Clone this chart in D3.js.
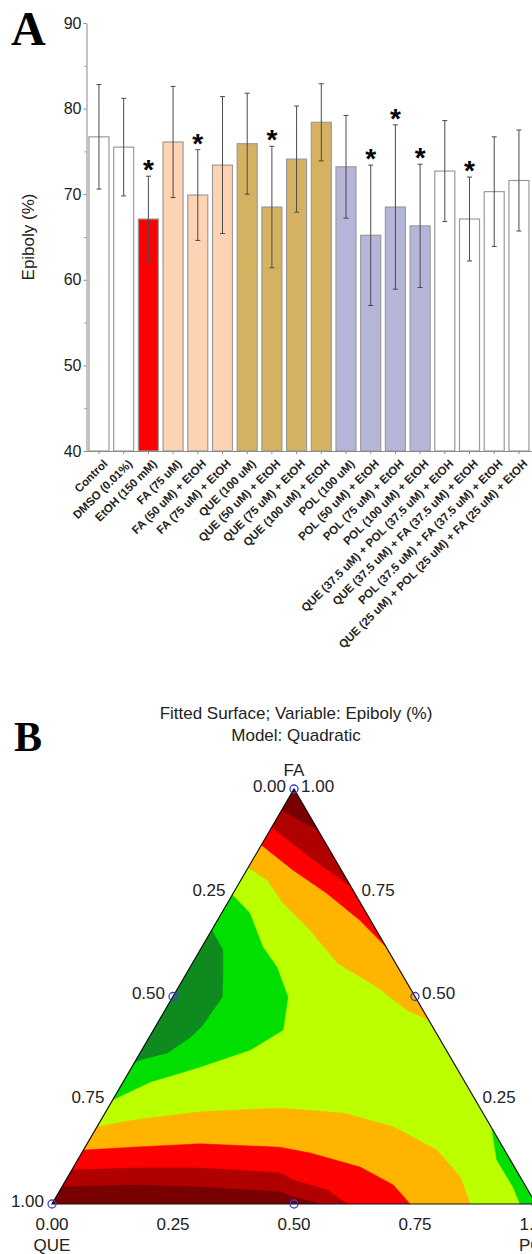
<!DOCTYPE html>
<html>
<head>
<meta charset="utf-8">
<script src="https://cdnjs.cloudflare.com/ajax/libs/d3/7.8.5/d3.min.js"></script>
<style>
    body { margin: 0; background: #fff; }
    svg { display: block; font-family: Arial, 'Liberation Sans', sans-serif; }
</style>
</head>
<body>
<svg id="chart" width="532" height="1254"></svg>
<script>
// ---- panel A data ----
const categories = [
    'Control',
    'DMSO (0.01%)',
    'EtOH (150 mM)',
    'FA (75 uM)',
    'FA (50 uM) + EtOH',
    'FA (75 uM) + EtOH',
    'QUE (100 uM)',
    'QUE (50 uM) + EtOH',
    'QUE (75 uM) + EtOH',
    'QUE (100 uM) + EtOH',
    'POL (100 uM)',
    'POL (50 uM) + EtOH',
    'POL (75 uM) + EtOH',
    'POL (100 uM) + EtOH',
    'QUE (37.5 uM) + POL (37.5 uM) + EtOH',
    'QUE (37.5 uM) + FA (37.5 uM) + EtOH',
    'POL (37.5 uM) + FA (37.5 uM) + EtOH',
    'QUE (25 uM) + POL (25 uM) + FA (25 uM) + EtOH',
]
const groups = ['none', 'none', 'etoh', 'fa', 'fa', 'fa', 'que', 'que', 'que', 'que',
    'pol', 'pol', 'pol', 'pol', 'none', 'none', 'none', 'none']
const means = [76.7, 75.5, 67.1, 76.1, 69.9, 73.4, 75.9, 68.5, 74.1, 78.4,
    73.2, 65.2, 68.5, 66.3, 72.7, 67.1, 70.3, 71.6]
const sds = [6.1, 5.7, 5.0, 6.5, 5.3, 8.0, 5.9, 7.1, 6.2, 4.5,
    6.0, 8.2, 9.6, 7.2, 5.9, 4.9, 6.4, 5.9]
const significant = [0, 0, 1, 0, 1, 0, 0, 1, 0, 0, 0, 1, 1, 1, 0, 1, 0, 0]
const yTicks = [40, 50, 60, 70, 80, 90]
const yMinorTicks = [45, 55, 65, 75, 85]

// ---- panel B data: contour bands as [POL, FA] fractions (QUE = 1 - POL - FA) ----
const baseLevel = 69
const topOrange = [[0, 0.81], [0.054, 0.781], [0.115, 0.725], [0.203, 0.66], [0.299, 0.581],
    [0.41, 0.523], [0.5, 0.467], [0.557, 0.443], [0, 1]]
const topRed = [[0, 0.865], [0.095, 0.805], [0.193, 0.749], [0.294, 0.684], [0.381, 0.619], [0, 1]]
const topDarkRed = [[0, 0.908], [0.115, 0.836], [0.236, 0.764], [0, 1]]
const topDarkest = [[0, 0.949], [0.099, 0.901], [0, 1]]
const bottomOrange = [[0, 0.186], [0.066, 0.202], [0.195, 0.222], [0.355, 0.231], [0.492, 0.219],
    [0.612, 0.186], [0.73, 0.13], [0.811, 0.065], [0.864, 0], [0, 0]]
const bottomRed = [[0, 0.13], [0.099, 0.137], [0.233, 0.145], [0.402, 0.137], [0.472, 0.123],
    [0.592, 0.089], [0.682, 0.046], [0.74, 0], [0, 0]]
const bottomDarkRed = [[0, 0.082], [0.124, 0.087], [0.262, 0.087], [0.434, 0.075], [0.469, 0.058],
    [0.551, 0.034], [0.61, 0], [0, 0]]
const bottomDarkest = [[0, 0.041], [0.144, 0.046], [0.285, 0.041], [0.457, 0.029], [0.489, 0.017],
    [0.554, 0], [0, 0]]
const leftGreen = [[0, 0.745], [0.058, 0.701], [0.126, 0.619], [0.179, 0.571], [0.238, 0.499],
    [0.268, 0.419], [0.224, 0.371], [0.141, 0.33], [0.085, 0.306], [0.056, 0.294], [0, 0.251]]
const leftDarkGreen = [[0, 0.66], [0.047, 0.612], [0.077, 0.552], [0.102, 0.499], [0.096, 0.43],
    [0.085, 0.402], [0.056, 0.364], [0.008, 0.347], [0, 0.34]]
const polGreen = [[0.817, 0.183], [0.866, 0.106], [0.932, 0.041], [0.967, 0], [1, 0]]
const bands = [
    { level: 67, pts: topOrange },
    { level: 65, pts: topRed },
    { level: 63, pts: topDarkRed },
    { level: 61, pts: topDarkest },
    { level: 67, pts: bottomOrange },
    { level: 65, pts: bottomRed },
    { level: 63, pts: bottomDarkRed },
    { level: 61, pts: bottomDarkest },
    { level: 71, pts: leftGreen },
    { level: 73, pts: leftDarkGreen },
    { level: 71, pts: polGreen },
]
const designPoints = [[0, 0], [0.5, 0], [1, 0], [0, 0.5], [0.5, 0.5], [0, 1]]
const axisTicks = [0, 0.25, 0.5, 0.75, 1]

const svg = d3.select('#chart')
const fmt = d3.format('.2f')

// ================= A: bar chart =================
const y = d3.scaleLinear().domain([40, 90]).range([451, 23])
const x = d3.scaleBand()
    .domain(categories)
    .range([86.5, 531.4])
    .paddingInner(0.19)
    .paddingOuter(0.1)
const fill = d3.scaleOrdinal()
    .domain(['none', 'etoh', 'fa', 'que', 'pol'])
    .range(['#ffffff', '#ff0000', '#fdd3b3', '#d5b262', '#b5b5da'])
const rows = categories.map((c, i) => ({
    name: c, group: groups[i], mean: means[i], sd: sds[i], sig: significant[i],
}))

svg.append('text')
    .attr('x', 11)
    .attr('y', 45)
    .style('font-family', "'Times New Roman', 'Liberation Serif', serif")
    .style('font-weight', 'bold')
    .style('font-size', '48px')
    .text('A')

const bars = svg.append('g')
bars.selectAll('rect')
    .data(rows)
    .join('rect')
    .attr('x', (d) => x(d.name))
    .attr('width', x.bandwidth())
    .attr('y', (d) => y(d.mean))
    .attr('height', (d) => y(40) - y(d.mean))
    .attr('fill', (d) => fill(d.group))
    .attr('stroke', '#9b9b9b')
    .attr('stroke-width', 1.2)

const errs = svg.append('g').attr('stroke', '#4a4a4a').attr('stroke-width', 1)
rows.forEach((d) => {
    const cx = x(d.name) + x.bandwidth() / 2
    errs.append('line')
        .attr('x1', cx).attr('x2', cx)
        .attr('y1', y(d.mean + d.sd)).attr('y2', y(d.mean - d.sd))
    ;[d.mean + d.sd, d.mean - d.sd].forEach((v) => {
        errs.append('line')
            .attr('x1', cx - 2.5).attr('x2', cx + 2.5)
            .attr('y1', y(v)).attr('y2', y(v))
    })
})

svg.append('g')
    .selectAll('text')
    .data(rows.filter((d) => d.sig))
    .join('text')
    .attr('x', (d) => x(d.name) + x.bandwidth() / 2)
    .attr('y', (d) => y(d.mean + d.sd) + 3)
    .attr('text-anchor', 'middle')
    .style('font-size', '28px')
    .style('font-weight', 'bold')
    .text('*')

const yAxis = svg.append('g')
    .attr('transform', 'translate(86.5,0)')
    .call(d3.axisLeft(y).tickValues(yTicks).tickSize(3).tickSizeOuter(0).tickPadding(2))
svg.append('g')
    .attr('transform', 'translate(86.5,0)')
    .call(d3.axisLeft(y).tickValues(yMinorTicks).tickSize(2).tickFormat(''))
    .call((g) => g.select('.domain').remove())
svg.selectAll('.tick line, .domain').attr('stroke', '#8a8a8a')
yAxis.selectAll('text').style('font-size', '16px').attr('fill', '#222')

const xAxis = svg.append('g')
    .attr('transform', 'translate(0,451)')
    .call(d3.axisBottom(x).tickSize(3).tickSizeOuter(0))
xAxis.select('.domain').attr('stroke', '#8a8a8a')
xAxis.selectAll('.tick line').attr('stroke', '#8a8a8a')
xAxis.selectAll('text')
    .attr('x', -3)
    .attr('y', 12)
    .attr('dy', '0.35em')
    .attr('transform', 'rotate(-45)')
    .style('text-anchor', 'end')
    .style('font-size', '11.5px')
    .style('font-weight', 'bold')
    .attr('fill', '#222')

svg.append('text')
    .attr('transform', 'translate(28,237) rotate(-90)')
    .attr('text-anchor', 'middle')
    .attr('dominant-baseline', 'central')
    .style('font-size', '17px')
    .attr('fill', '#222')
    .text('Epiboly (%)')

// ================= B: ternary contour =================
const left = 52
const side = d3.scaleLinear().domain([0, 1]).range([0, 484])
const up = d3.scaleLinear().domain([0, 1]).range([1204, 789])
const tern = ([p, f]) => [left + side(p + f / 2), up(f)]
const color = d3.scaleThreshold()
    .domain([62, 64, 66, 68, 70, 72])
    .range(['#780000', '#b00000', '#ff0000', '#ffb400', '#bbff00', '#00df00', '#0e8a1e'])
const corners = [[0, 0], [1, 0], [0, 1]]
const line = d3.line().x((d) => tern(d)[0]).y((d) => tern(d)[1])

svg.append('text')
    .attr('x', 14)
    .attr('y', 751)
    .style('font-family', "'Times New Roman', 'Liberation Serif', serif")
    .style('font-weight', 'bold')
    .style('font-size', '42px')
    .text('B')

svg.append('text')
    .attr('x', 296).attr('y', 719)
    .attr('text-anchor', 'middle')
    .style('font-size', '17px')
    .attr('fill', '#222')
    .text('Fitted Surface; Variable: Epiboly (%)')
svg.append('text')
    .attr('x', 296).attr('y', 741)
    .attr('text-anchor', 'middle')
    .style('font-size', '17px')
    .attr('fill', '#222')
    .text('Model: Quadratic')

svg.append('clipPath')
    .attr('id', 'tri')
    .append('path')
    .attr('d', line(corners) + 'Z')

const surf = svg.append('g').attr('clip-path', 'url(#tri)')
surf.append('path')
    .attr('d', line(corners) + 'Z')
    .attr('fill', color(baseLevel))
surf.selectAll('.band')
    .data(bands)
    .join('path')
    .attr('class', 'band')
    .attr('d', (d) => line(d.pts) + 'Z')
    .attr('fill', (d) => color(d.level))
    .attr('stroke', (d) => color(d.level))
    .attr('stroke-width', 0.5)

svg.append('path')
    .attr('d', line(corners) + 'Z')
    .attr('fill', 'none')
    .attr('stroke', '#111')
    .attr('stroke-width', 1.2)

svg.append('g')
    .selectAll('circle')
    .data(designPoints)
    .join('circle')
    .attr('cx', (d) => tern(d)[0])
    .attr('cy', (d) => tern(d)[1])
    .attr('r', 4)
    .attr('fill', 'none')
    .attr('stroke', '#3b3bd6')
    .attr('stroke-width', 1.3)

const lab = svg.append('g').style('font-size', '17px').attr('fill', '#222')
// bottom edge: POL fraction
lab.selectAll('.bt')
    .data(axisTicks)
    .join('text')
    .attr('x', (t) => tern([t, 0])[0])
    .attr('y', 1230)
    .attr('text-anchor', 'middle')
    .text(fmt)
// left edge: QUE fraction
lab.selectAll('.lt')
    .data(axisTicks)
    .join('text')
    .attr('x', (t) => tern([0, 1 - t])[0] - 8)
    .attr('y', (t) => tern([0, 1 - t])[1] - 3)
    .attr('dy', '0.35em')
    .attr('text-anchor', 'end')
    .text(fmt)
// right edge: FA fraction
lab.selectAll('.rt')
    .data(axisTicks.filter((t) => t > 0))
    .join('text')
    .attr('x', (t) => tern([1 - t, t])[0] + 7)
    .attr('y', (t) => tern([1 - t, t])[1] - 3)
    .attr('dy', '0.35em')
    .attr('text-anchor', 'start')
    .text(fmt)

lab.append('text')
    .attr('x', tern([0, 1])[0])
    .attr('y', 776)
    .attr('text-anchor', 'middle')
    .text('FA')
lab.append('text')
    .attr('x', tern([0, 0])[0])
    .attr('y', 1251)
    .attr('text-anchor', 'middle')
    .text('QUE')
lab.append('text')
    .attr('x', tern([1, 0])[0])
    .attr('y', 1251)
    .attr('text-anchor', 'middle')
    .text('POL')
</script>
</body>
</html>
